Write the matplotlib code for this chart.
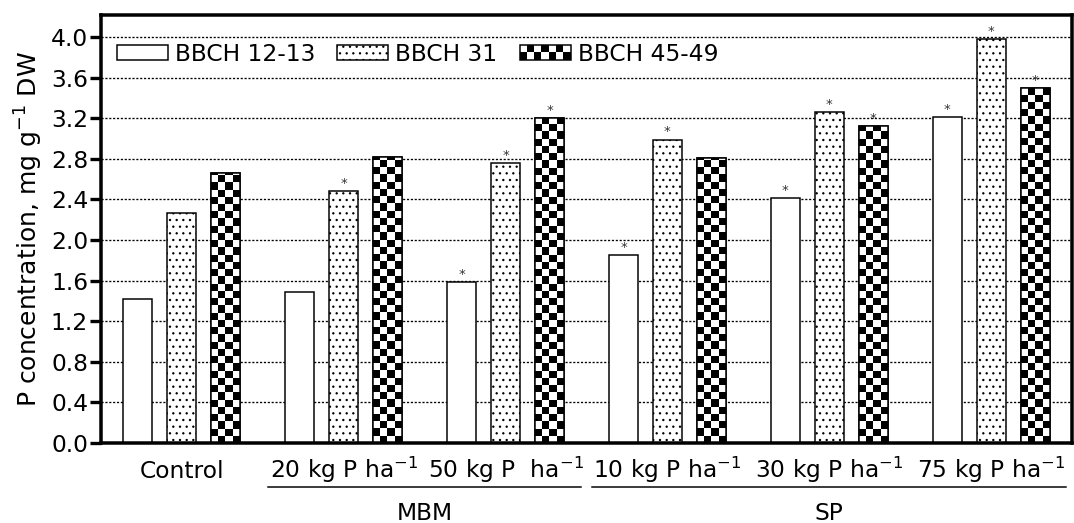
import numpy as np
import matplotlib
matplotlib.use('Agg')
import matplotlib.pyplot as plt
from matplotlib.patches import Rectangle
from matplotlib.legend_handler import HandlerBase

# ---------------- data ----------------
groups = ['Control', '20 kg P ha$^{-1}$', '50 kg P  ha$^{-1}$',
          '10 kg P ha$^{-1}$', '30 kg P ha$^{-1}$', '75 kg P ha$^{-1}$']
series_names = ['BBCH 12-13', 'BBCH 31', 'BBCH 45-49']
bbch_12_13 = [1.42, 1.49, 1.59, 1.85, 2.41, 3.21]
bbch_31 = [2.27, 2.48, 2.76, 2.99, 3.26, 3.98]
bbch_45_49 = [2.66, 2.82, 3.20, 2.81, 3.12, 3.50]
sig_12_13 = [False, False, True, True, True, True]
sig_31 = [False, True, True, True, True, True]
sig_45_49 = [False, False, True, False, True, True]
fertilizers = ['MBM', 'SP']
fertilizer_groups = [[1, 2], [3, 4, 5]]
yticks = [0.0, 0.4, 0.8, 1.2, 1.6, 2.0, 2.4, 2.8, 3.2, 3.6, 4.0]
ylabel = 'P concentration, mg g$^{-1}$ DW'

# ---------------- style ----------------
plt.rcParams['font.family'] = ['DejaVu Sans']
plt.rcParams['mathtext.fontset'] = 'dejavusans'
plt.rcParams['hatch.linewidth'] = 0.6
plt.rcParams['hatch.color'] = 'black'
FS = 14
DPI = 120

fig = plt.figure(figsize=(1074 / DPI, 523 / DPI), dpi=DPI)
ax = fig.add_axes([101 / 1074, 80 / 523, 971 / 1074, 428 / 523])
YMAX = 4.217
ax.set_xlim(-0.5, 5.5)
ax.set_ylim(0, YMAX)

x = np.arange(len(groups))
off = 0.2716
w = 0.179
lw_bar = 0.9

ax.set_axisbelow(True)
ax.yaxis.grid(True, color='black', linestyle=(0, (1.6, 1.3)), linewidth=0.8)

b1 = ax.bar(x - off, bbch_12_13, w, facecolor='white', edgecolor='black',
            linewidth=lw_bar, zorder=2)
b2 = ax.bar(x, bbch_31, w, facecolor='white', edgecolor='black',
            hatch='...', linewidth=lw_bar, zorder=2)
b3 = ax.bar(x + off, bbch_45_49, w, facecolor='white', edgecolor='black',
            linewidth=lw_bar, zorder=2)

# checker fill for third series
for rect in b3.patches:
    x0, y0 = rect.get_x(), rect.get_y()
    rw, rh = rect.get_width(), rect.get_height()
    p0 = ax.transData.transform((x0, y0))
    p1 = ax.transData.transform((x0 + rw, y0 + rh))
    wpx, hpx = p1[0] - p0[0], p1[1] - p0[1]
    ncol = 4
    sq = wpx / ncol
    nrow = int(np.ceil(hpx / sq))
    ytop = y0 + nrow * sq * (rh / hpx)
    arr = np.add.outer(np.arange(nrow), np.arange(ncol)) % 2
    im = ax.imshow(arr, cmap='gray_r', vmin=0, vmax=1,
                   extent=(x0, x0 + rw, y0, ytop), origin='lower',
                   interpolation='nearest', aspect='auto', zorder=2.2)
    im.set_clip_path(rect)
ax.bar(x + off, bbch_45_49, w, facecolor='none', edgecolor='black',
       linewidth=lw_bar, zorder=2.5)

ax.set_xlim(-0.5, 5.5)
ax.set_ylim(0, YMAX)

# significance stars
for xs, vals, sig in [(x - off, bbch_12_13, sig_12_13), (x, bbch_31, sig_31),
                      (x + off, bbch_45_49, sig_45_49)]:
    for xi, v, s in zip(xs, vals, sig):
        if s:
            ax.text(xi, v + 0.075, '*', ha='center', va='center',
                    fontsize=8, color='#333333', zorder=4)

# axes styling
for sp in ax.spines.values():
    sp.set_linewidth(2.1)
ax.set_yticks(yticks)
ax.set_yticklabels([f'{t:.1f}' for t in yticks])
ax.tick_params(axis='y', direction='out', length=6.5, width=2.0, pad=1.2,
               labelsize=FS)
ax.set_xticks(x)
ax.set_xticklabels(groups)
ax.tick_params(axis='x', length=0, pad=21, labelsize=FS)
for lab in ax.get_xticklabels():
    lab.set_va('baseline')

ax.set_ylabel(ylabel, fontsize=15)
ax.yaxis.set_label_coords(-0.058, 0.5)

# fertilizer group lines and names
trans = ax.get_xaxis_transform()
y_line = (443 - 487) / 428
y_name = (443 - 513) / 428
for name, idx in zip(fertilizers, fertilizer_groups):
    xa, xb = idx[0] - 0.466, idx[-1] + 0.466
    ax.plot([xa, xb], [y_line, y_line], color='black', lw=0.9,
            transform=trans, clip_on=False)
    ax.text((idx[0] + idx[-1]) / 2, y_name, name, ha='center', va='center',
            fontsize=FS, transform=trans)


# legend
class CheckerHandler(HandlerBase):
    def create_artists(self, legend, orig_handle, xdescent, ydescent,
                       width, height, fontsize, trans):
        arts = [Rectangle((-xdescent, -ydescent), width, height,
                          facecolor='white', edgecolor='none', transform=trans)]
        nc, nr = 7, 2
        sw, sh = width / nc, height / nr
        for i in range(nr):
            for j in range(nc):
                if (i + j) % 2 == 0:
                    arts.append(Rectangle((-xdescent + j * sw, -ydescent + i * sh),
                                          sw, sh, facecolor='black',
                                          edgecolor='none', transform=trans))
        arts.append(Rectangle((-xdescent, -ydescent), width, height,
                              facecolor='none', edgecolor='black',
                              lw=lw_bar, transform=trans))
        return arts


proxy = Rectangle((0, 0), 1, 1)
em = FS * DPI / 72.0
leg = ax.legend([b1, b2, proxy], series_names, ncol=3, frameon=False,
                loc='center left', bbox_to_anchor=(16 / 971, (443 - 54) / 428),
                borderaxespad=0, borderpad=0, fontsize=FS,
                handlelength=51 / em, handleheight=14 / em,
                handletextpad=7 / em, columnspacing=22 / em,
                handler_map={proxy: CheckerHandler()})
leg.set_zorder(5)

fig.savefig('out.png', dpi=DPI)
